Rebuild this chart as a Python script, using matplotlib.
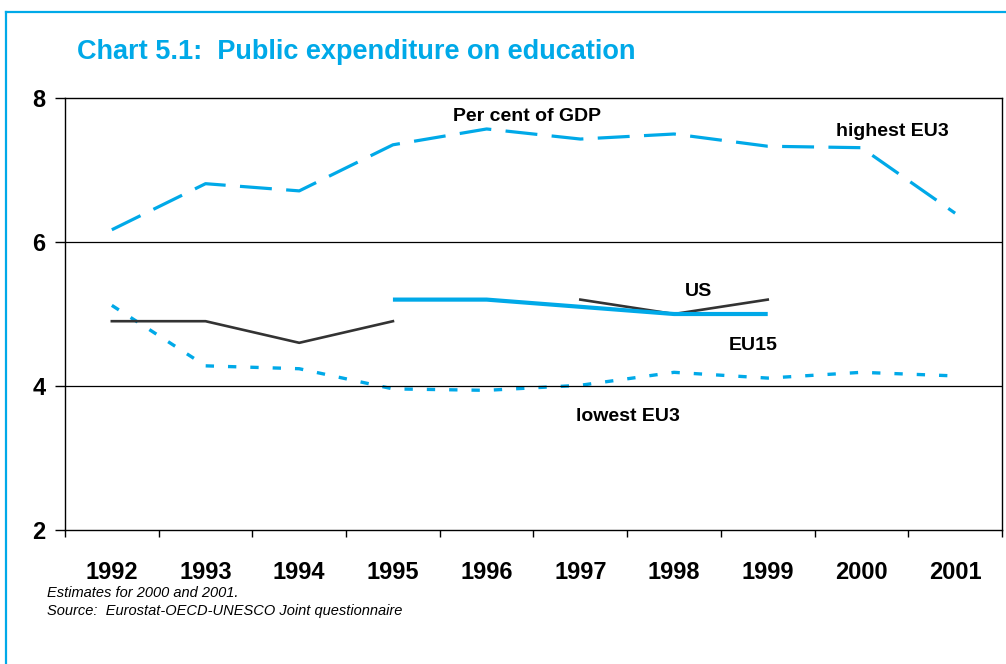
import matplotlib

matplotlib.use("Agg")
import matplotlib.pyplot as plt  # noqa: E402
from matplotlib.lines import Line2D  # noqa: E402
from matplotlib import font_manager  # noqa: E402

BLUE = "#00A9E8"
DARK = "#333333"

years = ["1992", "1993", "1994", "1995", "1996", "1997", "1998", "1999", "2000", "2001"]
highest_eu3 = [6.17, 6.81, 6.71, 7.35, 7.57, 7.43, 7.50, 7.33, 7.31, 6.40]
lowest_eu3 = [5.12, 4.28, 4.24, 3.96, 3.94, 4.01, 4.19, 4.11, 4.19, 4.14]
us = [4.9, 4.9, 4.6, 4.9, None, 5.2, 5.0, 5.2, None, None]
eu15 = [None, None, None, 5.2, 5.2, 5.1, 5.0, 5.0, None, None]
y_ticks = [2, 4, 6, 8]

names = {f.name for f in font_manager.fontManager.ttflist}
NARROW = "Liberation Sans Narrow" if "Liberation Sans Narrow" in names else "Liberation Sans"
plt.rcParams["font.family"] = [NARROW, "DejaVu Sans"]


def series_xy(vals):
    xs = [i for i, v in enumerate(vals) if v is not None]
    ys = [v for v in vals if v is not None]
    return xs, ys


def split_runs(vals):
    runs, cur = [], []
    for i, v in enumerate(vals):
        if v is None:
            if cur:
                runs.append(cur)
            cur = []
        else:
            cur.append((i, v))
    if cur:
        runs.append(cur)
    return runs


fig = plt.figure(figsize=(10.06, 6.64), dpi=100)
ax = fig.add_axes([0.0646, 0.2018, 0.9314, 0.6506])

x, y = series_xy(highest_eu3)
ax.plot(x, y, color=BLUE, lw=2.3, dashes=(10, 4.5))
x, y = series_xy(lowest_eu3)
ax.plot(x, y, color=BLUE, lw=2.4, dashes=(2.5, 4.2))
for run in split_runs(us):
    ax.plot([p[0] for p in run], [p[1] for p in run], color=DARK, lw=1.9)
x, y = series_xy(eu15)
ax.plot(x, y, color=BLUE, lw=3.0, solid_capstyle="butt")

ax.set_xlim(-0.5, len(years) - 0.5)
ax.set_ylim(2, 8)
ax.set_yticks(y_ticks)
ax.set_yticklabels([str(t) for t in y_ticks], fontsize=17, fontweight="bold")
ax.set_xticks(range(len(years)))
ax.set_xticklabels(years, fontsize=17, fontweight="bold")
ax.set_xticks([i - 0.5 for i in range(len(years) + 1)], minor=True)
ax.tick_params(axis="x", which="major", length=0, pad=22)
ax.tick_params(axis="x", which="minor", length=5, width=1, direction="out")
ax.tick_params(axis="y", length=7, width=1, direction="out", pad=7)
for yy in (4, 6):
    ax.axhline(yy, color="black", lw=0.9)
for s in ax.spines.values():
    s.set_linewidth(1.0)

label_kw = dict(fontsize=14, fontweight="bold", ha="center", va="center")
ax.text(4.43, 7.75, "Per cent of GDP", **label_kw)
ax.text(8.33, 7.54, "highest EU3", **label_kw)
ax.text(6.26, 5.31, "US", **label_kw)
ax.text(6.84, 4.56, "EU15", **label_kw)
ax.text(5.51, 3.58, "lowest EU3", **label_kw)

fig.text(77 / 1006, 1 - 52 / 664, "Chart 5.1:  Public expenditure on education",
         color=BLUE, fontsize=19.5, fontweight="bold", va="center", ha="left")
fig.text(47 / 1006, 1 - 593 / 664, "Estimates for 2000 and 2001.",
         fontsize=10.5, style="italic", va="center", ha="left")
fig.text(47 / 1006, 1 - 611 / 664, "Source:  Eurostat-OECD-UNESCO Joint questionnaire",
         fontsize=10.5, style="italic", va="center", ha="left")

# outer frame: top and left rules only
top = 1 - 12 / 664
left = 6 / 1006
fig.add_artist(Line2D([left, 1.0], [top, top], color=BLUE, lw=1.6, transform=fig.transFigure))
fig.add_artist(Line2D([left, left], [0.0, top], color=BLUE, lw=1.6, transform=fig.transFigure))

fig.savefig("out.png", dpi=100)
